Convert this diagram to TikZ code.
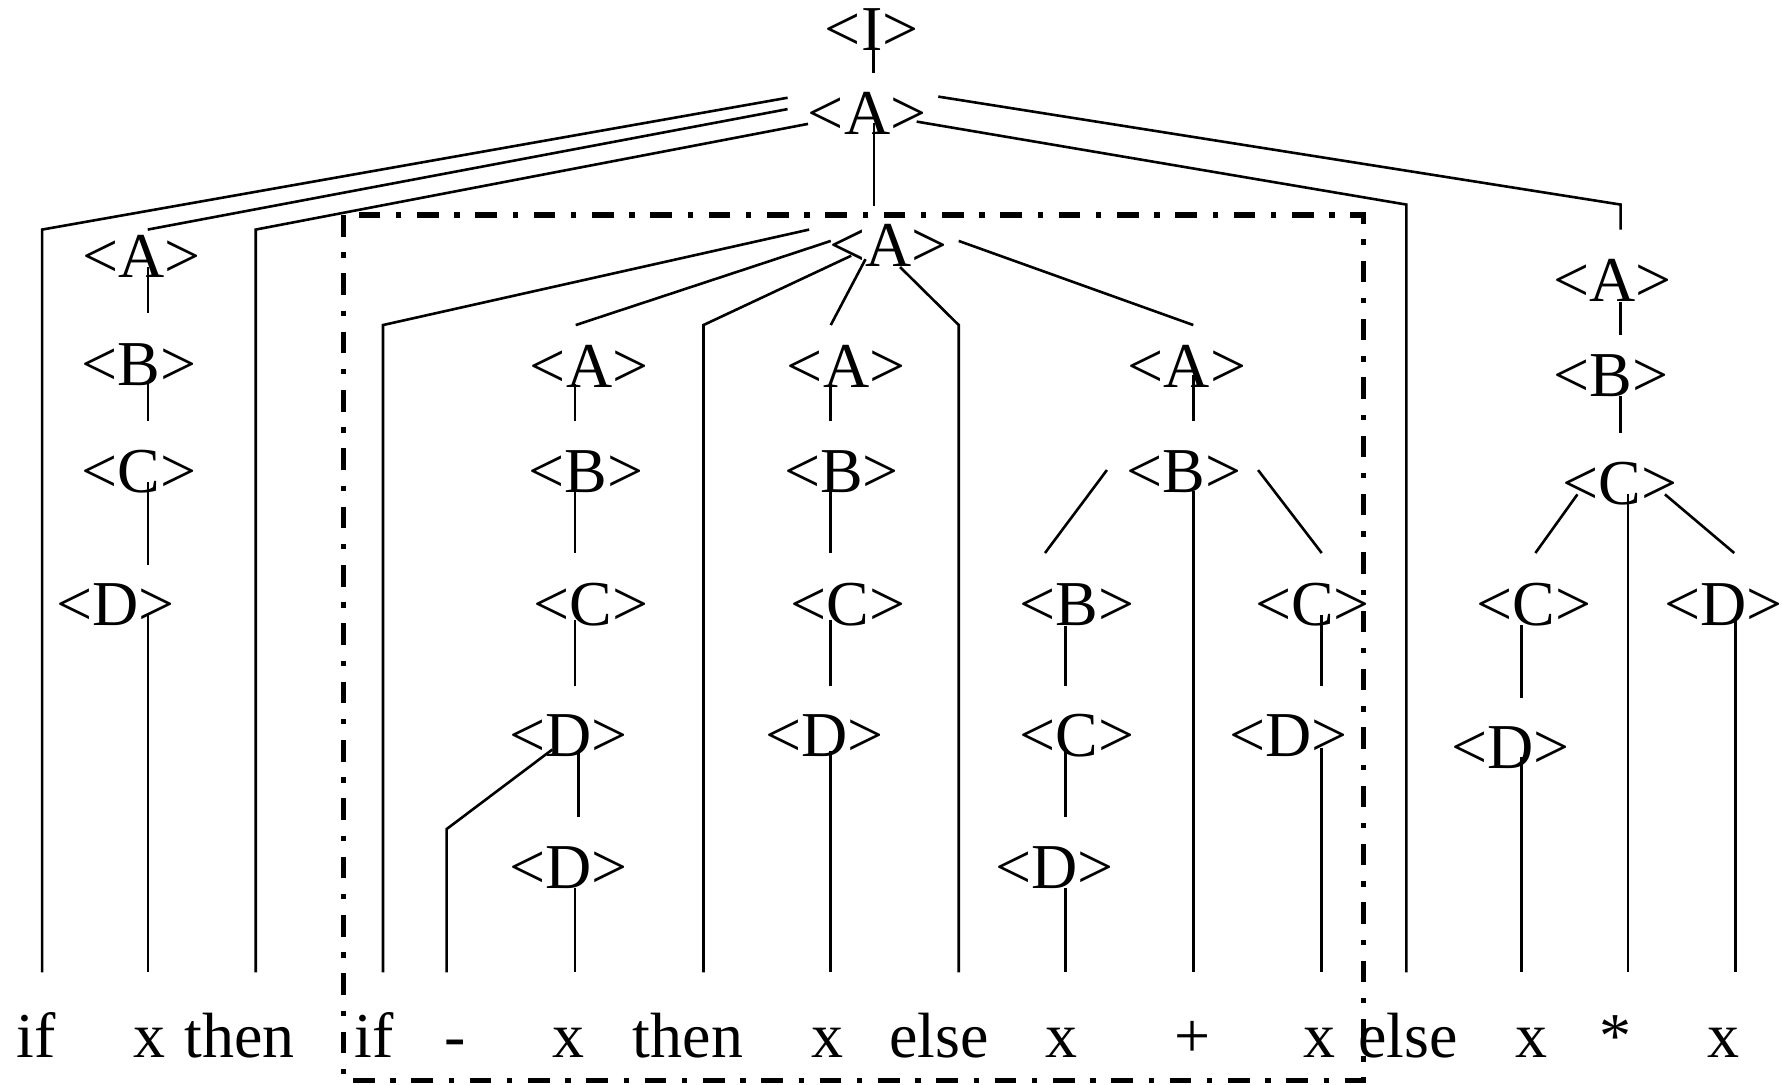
\documentclass[tikz,border=0pt]{standalone}
\usepackage{fontspec}
\setmainfont{Liberation Serif}
\newcommand\ntm[1]{\textless#1\textgreater}
\begin{document}
\begin{tikzpicture}[x=0.01cm,y=-0.01cm,
  lbl/.style={anchor=base,inner sep=0pt,font=\fontsize{16}{18}\selectfont},
  edge/.style={line width=0.65pt},
  frame/.style={line width=1.3pt,dash pattern=on 0.19cm off 0.138cm on 0.047cm off 0.138cm}]
\useasboundingbox (0,0) rectangle (1568,954.7);
% nonterminals
\node[lbl] (I) at (767,44) {\ntm{I}};
\node[lbl] (A0) at (763,118.5) {\ntm{A}};
\node[lbl] (A1) at (124.5,244.5) {\ntm{A}};
\node[lbl] (A2) at (781.7,234.6) {\ntm{A}};
\node[lbl] (A3) at (1419,265) {\ntm{A}};
\node[lbl] (B1) at (122.5,339) {\ntm{B}};
\node[lbl] (A4) at (518.4,341) {\ntm{A}};
\node[lbl] (A5) at (744.5,341) {\ntm{A}};
\node[lbl] (A6) at (1044.5,341) {\ntm{A}};
\node[lbl] (B2) at (1417.8,348.8) {\ntm{B}};
\node[lbl] (C1) at (122.5,433.5) {\ntm{C}};
\node[lbl] (B3) at (515.6,433.5) {\ntm{B}};
\node[lbl] (B4) at (740.5,433.5) {\ntm{B}};
\node[lbl] (B5) at (1042,433.5) {\ntm{B}};
\node[lbl] (C2) at (1425.6,444) {\ntm{C}};
\node[lbl] (D1) at (101.5,550) {\ntm{D}};
\node[lbl] (C3) at (520,550) {\ntm{C}};
\node[lbl] (C4) at (746,550) {\ntm{C}};
\node[lbl] (B6) at (947.7,550) {\ntm{B}};
\node[lbl] (C5) at (1155,550) {\ntm{C}};
\node[lbl] (C6) at (1350,550) {\ntm{C}};
\node[lbl] (D2) at (1516.6,550) {\ntm{D}};
\node[lbl] (D3) at (500,665.5) {\ntm{D}};
\node[lbl] (D4) at (725.5,665.5) {\ntm{D}};
\node[lbl] (C7) at (947.7,665.5) {\ntm{C}};
\node[lbl] (D5) at (1134,665.5) {\ntm{D}};
\node[lbl] (D6) at (1329,676) {\ntm{D}};
\node[lbl] (D7) at (500,782) {\ntm{D}};
\node[lbl] (D8) at (928,782) {\ntm{D}};
% terminals
\node[lbl] (w1) at (31.5,930.4) {if};
\node[lbl] (w2) at (131.8,930.4) {x};
\node[lbl] (w3) at (211,930.4) {then};
\node[lbl] (w4) at (329.5,930.4) {if};
\node[lbl] (w5) at (400.5,930.4) {-};
\node[lbl] (w6) at (500.5,930.4) {x};
\node[lbl] (w7) at (605.3,930.4) {then};
\node[lbl] (w8) at (728,930.4) {x};
\node[lbl] (w9) at (826.2,930.4) {else};
\node[lbl] (w10) at (934,930.4) {x};
\node[lbl] (w11) at (1049,930.4) {+};
\node[lbl] (w12) at (1160.8,930.4) {x};
\node[lbl] (w13) at (1238.8,930.4) {else};
\node[lbl] (w14) at (1347.6,930.4) {x};
\node[lbl] (w15) at (1421.7,930.4) {*};
\node[lbl] (w16) at (1516.7,930.4) {x};
% connectors
\draw[edge] (768.4,44) -- (768.4,64);
\draw[edge] (693,86) -- (37,202) -- (37,855.7);
\draw[edge] (693,96) -- (130,202);
\draw[edge] (711,109) -- (225,202) -- (225,855.7);
\draw[edge] (769,108) -- (769,181);
\draw[edge] (806.6,107) -- (1237.5,180) -- (1237.5,855.7);
\draw[edge] (825.6,85) -- (1426,180) -- (1426,202);
% left column
\draw[edge] (130.3,234.6) -- (130.3,275.7);
\draw[edge] (130.3,336.5) -- (130.3,370.5);
\draw[edge] (130.3,424.4) -- (130.3,497.5);
\draw[edge] (130.3,541) -- (130.3,855.7);
% inner A
\draw[edge] (712,202) -- (337,286) -- (337,855.7);
\draw[edge] (731,212) -- (506.6,286);
\draw[edge] (749,225) -- (619,286) -- (619,855.7);
\draw[edge] (761.6,228) -- (731,286);
\draw[edge] (792,235) -- (843.6,286) -- (843.6,855.7);
\draw[edge] (843.6,212) -- (1050,286);
% inner left subtree
\draw[edge] (506,338) -- (506,370.5);
\draw[edge] (506,432) -- (506,486.6);
\draw[edge] (506,545.6) -- (506,603.4);
\draw[edge] (509,661) -- (509,718.6);
\draw[edge] (486,659.5) -- (393,729.5) -- (393,855.7);
\draw[edge] (506,781) -- (506,855.7);
% middle subtree
\draw[edge] (731,338) -- (731,370.5);
\draw[edge] (731,432) -- (731,486.6);
\draw[edge] (731,545.6) -- (731,603.4);
\draw[edge] (731,661) -- (731,855.7);
% inner right subtree
\draw[edge] (1050,330) -- (1050,370.5);
\draw[edge] (974,413.6) -- (919.5,486.6);
\draw[edge] (1050,432) -- (1050,855.7);
\draw[edge] (1107,413.6) -- (1163,486.6);
\draw[edge] (937.3,550.5) -- (937.3,603.4);
\draw[edge] (937.3,659.5) -- (937.3,718.6);
\draw[edge] (937.3,781) -- (937.3,855.7);
\draw[edge] (1163,541) -- (1163,603.4);
\draw[edge] (1163,658) -- (1163,855.7);
% right subtree
\draw[edge] (1426,265.5) -- (1426,294.8);
\draw[edge] (1426,348.8) -- (1426,381);
\draw[edge] (1388,435) -- (1351,486.6);
\draw[edge] (1432.4,435) -- (1432.4,855.7);
\draw[edge] (1465,435) -- (1526,486.6);
\draw[edge] (1338.8,550) -- (1338.8,614);
\draw[edge] (1338.8,665.7) -- (1338.8,855.7);
\draw[edge] (1527,545.6) -- (1527,855.7);
% dash-dot frame
\draw[frame] (302,189.2) rectangle (1199.6,950.5);
\end{tikzpicture}
\end{document}
